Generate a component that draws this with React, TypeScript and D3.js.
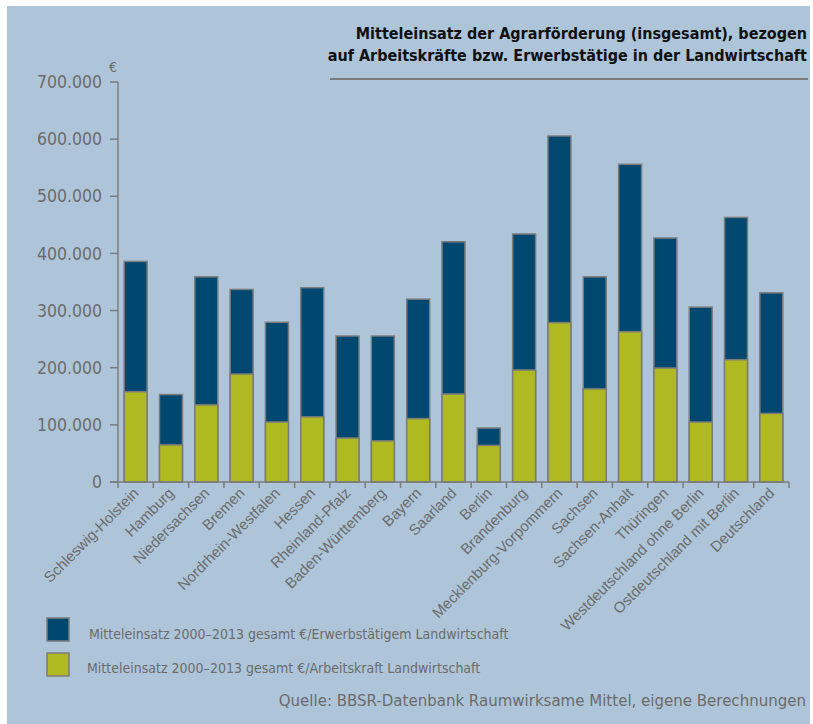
import React from "react";
import * as d3 from "d3";

const categories = [
  "Schleswig-Holstein", "Hamburg", "Niedersachsen", "Bremen", "Nordrhein-Westfalen",
  "Hessen", "Rheinland-Pfalz", "Baden-Württemberg", "Bayern", "Saarland", "Berlin",
  "Brandenburg", "Mecklenburg-Vorpommern", "Sachsen", "Sachsen-Anhalt", "Thüringen",
  "Westdeutschland ohne Berlin", "Ostdeutschland mit Berlin", "Deutschland",
];
const erwerbstaetige = [
  386000, 153000, 359000, 337000, 279500, 340000, 255500, 255500, 320000, 420500, 94500,
  434000, 605500, 359000, 556000, 427000, 306000, 463000, 331000,
];
const arbeitskraft = [
  158000, 65000, 135000, 189000, 105000, 114000, 77000, 72000, 111000, 154000, 64000,
  196000, 279000, 163000, 263000, 199500, 105000, 214000, 120000,
];
const yTicks = [0, 100000, 200000, 300000, 400000, 500000, 600000, 700000];
const yTickLabels = ["0", "100.000", "200.000", "300.000", "400.000", "500.000", "600.000", "700.000"];
const titleLines = [
  "Mitteleinsatz der Agrarförderung (insgesamt), bezogen",
  "auf Arbeitskräfte bzw. Erwerbstätige in der Landwirtschaft",
];
const legendLabels = [
  "Mitteleinsatz 2000–2013 gesamt €/Erwerbstätigem Landwirtschaft",
  "Mitteleinsatz 2000–2013 gesamt €/Arbeitskraft Landwirtschaft",
];
const source = "Quelle: BBSR-Datenbank Raumwirksame Mittel, eigene Berechnungen";

const W = 813;
const H = 724;
const BG = "#aec5d9";
const DARK = "#00486f";
const GREEN = "#afba22";
const STROKE = "#7b7b7b";
const TEXT = "#6b6b6b";
const NARROW = "'DejaVu Sans Condensed', sans-serif";
const SANS = "'Liberation Sans', Arial, sans-serif";

export default function App() {
  const x0 = 118, x1 = 789, yTop = 82, yBot = 482;
  const x = d3.scaleBand<string>().domain(categories).range([x0, x1]).padding(0);
  const y = d3.scaleLinear().domain([0, 700000]).range([yBot, yTop]);
  const bw = x.bandwidth() * 0.65;
  const boundaries = categories.map((c) => x(c) as number).concat([x1]);

  return (
    <svg width={W} height={H} style={{ position: "absolute", left: 0, top: 0 }}>
      <rect x={7} y={6} width={803} height={718} fill={BG} />
      {/* title */}
      {titleLines.map((t, i) => (
        <text key={i} x={807} y={39 + i * 22} textAnchor="end" fontFamily={NARROW}
          fontWeight="bold" fontSize={16} fill="#111">{t}</text>
      ))}
      <line x1={330} x2={808} y1={79} y2={79} stroke={STROKE} strokeWidth={2} />

      {/* y axis */}
      <line x1={x0} x2={x0} y1={yTop} y2={yBot} stroke={STROKE} strokeWidth={1.5} />
      {yTicks.map((v, i) => (
        <g key={v}>
          <line x1={110} x2={x0} y1={y(v)} y2={y(v)} stroke={STROKE} strokeWidth={1.5} />
          <text x={102} y={y(v)} dy="0.35em" textAnchor="end" fontFamily={NARROW}
            fontSize={17.5} fill={TEXT}>{yTickLabels[i]}</text>
        </g>
      ))}
      <text x={113} y={72} textAnchor="middle" fontFamily={NARROW} fontSize={14} fill={TEXT}>€</text>

      {/* bars */}
      {categories.map((c, i) => {
        const cx = (x(c) as number) + x.bandwidth() / 2;
        return (
          <g key={c}>
            <rect x={cx - bw / 2} y={y(erwerbstaetige[i])} width={bw}
              height={y(0) - y(erwerbstaetige[i])} fill={DARK} stroke={STROKE} strokeWidth={1.5} />
            <rect x={cx - bw / 2} y={y(arbeitskraft[i])} width={bw}
              height={y(0) - y(arbeitskraft[i])} fill={GREEN} stroke={STROKE} strokeWidth={1.5} />
          </g>
        );
      })}

      {/* x axis */}
      <line x1={110} x2={x1} y1={yBot} y2={yBot} stroke={STROKE} strokeWidth={1.5} />
      {boundaries.map((bx, i) => (
        <line key={i} x1={bx} x2={bx} y1={yBot} y2={yBot + 6} stroke={STROKE} strokeWidth={1.5} />
      ))}
      {categories.map((c) => {
        const cx = (x(c) as number) + x.bandwidth() / 2 + 4;
        return (
          <text key={c} transform={`translate(${cx},${yBot + 12}) rotate(-45)`} textAnchor="end"
            fontFamily={SANS} fontSize={15} fill={TEXT}>{c}</text>
        );
      })}

      {/* legend */}
      {legendLabels.map((l, i) => (
        <g key={l}>
          <rect x={47} y={618 + i * 35} width={22} height={23} fill={i === 0 ? DARK : GREEN}
            stroke={STROKE} strokeWidth={1.5} />
          <text x={i === 0 ? 89 : 87} y={639 + i * 34} fontFamily={NARROW} fontSize={14} fill={TEXT}>{l}</text>
        </g>
      ))}
      <text x={806} y={706} textAnchor="end" fontFamily={NARROW} fontSize={16.7} fill={TEXT}>{source}</text>
    </svg>
  );
}
